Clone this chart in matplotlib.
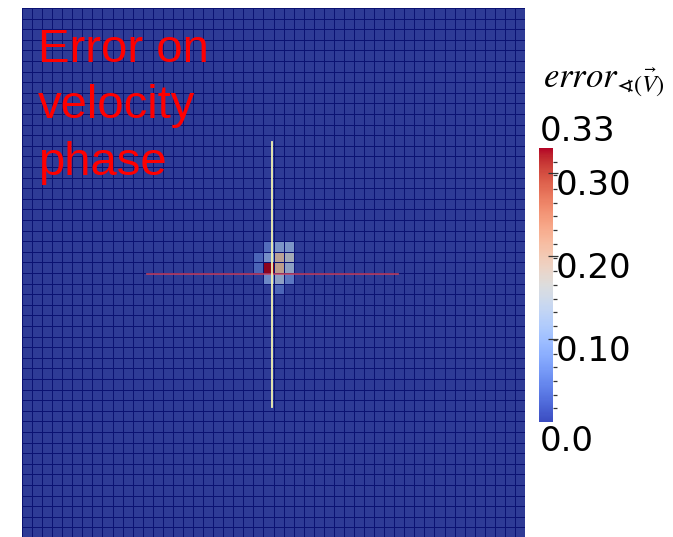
import numpy as np
import matplotlib.pyplot as plt
import matplotlib.transforms as mtransforms
from matplotlib.colors import ListedColormap

# mesh size and error values on the few non-zero cells (row from top, column from left)
n_rows = 50
n_cols = 50
hot_rows = [24, 24, 24, 24, 23, 23, 23, 23, 22, 22, 22, 25, 25, 25, 26]
hot_cols = [24, 25, 26, 23, 23, 24, 25, 26, 24, 25, 26, 24, 25, 26, 25]
hot_vals = [0.33, 0.20, 0.12, 0.04, 0.04, 0.09, 0.19, 0.15, 0.05, 0.10, 0.10, 0.08, 0.12, 0.06, 0.04]

vmin, vmax = 0.0, 0.33
cbar_ticks = [0.1, 0.2, 0.3]
cbar_tick_labels = ['0.10', '0.20', '0.30']

# probe lines through the centre of the domain
probe_center = (24.9, 25.1)
probe_half = 12.5

err = np.zeros((n_rows, n_cols))
err[hot_rows, hot_cols] = hot_vals

# slightly shaded version of coolwarm for the surface
base = plt.get_cmap('coolwarm')
shade = base(np.linspace(0, 1, 256))
shade[:, :3] *= 0.78
shaded_cmap = ListedColormap(shade)

fig = plt.figure(figsize=(6.73, 5.37), dpi=100)
ax = fig.add_axes([22/673, -1/537, 503/673, 530/537])
ax.pcolormesh(np.arange(n_cols + 1), np.arange(n_rows + 1), err,
              cmap=shaded_cmap, vmin=vmin, vmax=vmax,
              edgecolors='#0b1272', linewidth=0.7)
ax.set_xlim(0, n_cols)
ax.set_ylim(n_rows, 0)
ax.axis('off')

cx, cy = probe_center
ax.plot([cx - probe_half, cx + probe_half], [cy, cy], color='#d0405a', lw=1.3, alpha=0.8)
ax.plot([cx, cx], [cy - probe_half, cy + probe_half], color='#f4f4b0', lw=1.3)

ax.text(0.032, 0.962, 'Error on\nvelocity\nphase', transform=ax.transAxes,
        color='red', fontsize=34, family='Liberation Sans', va='top', ha='left',
        linespacing=1.36)

# colour bar
cax = fig.add_axes([539/673, (537-422)/537, 14/673, 274/537])
sm = plt.cm.ScalarMappable(cmap=base, norm=plt.Normalize(vmin, vmax))
cb = fig.colorbar(sm, cax=cax)
cb.outline.set_visible(False)
cb.set_ticks(cbar_ticks)
cb.set_ticklabels(cbar_tick_labels)
cax.set_yticks(np.arange(0, vmax, vmax / 20)[1:], minor=True)
cax.tick_params(which='major', direction='inout', length=7, width=0.9, color='#333333',
                labelsize=24.5, pad=0)
cax.tick_params(which='minor', direction='out', length=3, width=0.9, color='#333333')
shift = mtransforms.ScaledTranslation(-0.02, -0.09, fig.dpi_scale_trans)
for lab in cax.get_yticklabels():
    lab.set_transform(lab.get_transform() + shift)

cax.text(0.05, 1.0, '0.33', transform=cax.transAxes, fontsize=24.5,
         ha='left', va='bottom')
cax.text(0.05, -0.01, '0.0', transform=cax.transAxes, fontsize=24.5,
         ha='left', va='top')

plt.rcParams['mathtext.fontset'] = 'stix'
fig.text(543/673, 1 - 87/537, r'$error_{\sphericalangle(\vec{V})}$',
         fontsize=25, ha='left', va='baseline')

fig.savefig('out.png', dpi=100)
